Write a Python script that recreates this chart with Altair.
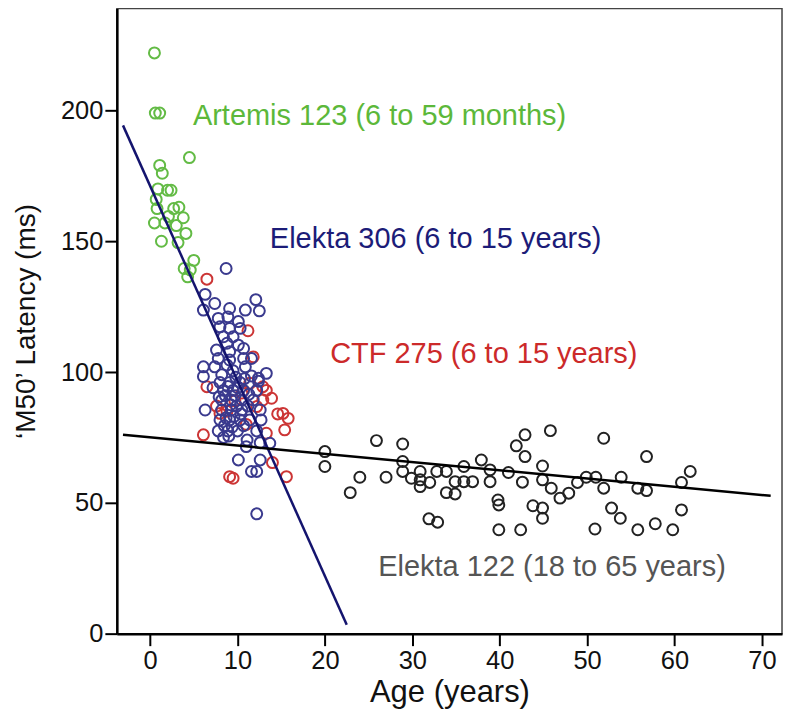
import altair as alt
import pandas as pd

# ---- data ----
artemis_x = [0.5, 0.6, 1.1, 4.5, 1.1, 1.4, 0.9, 2.0, 2.4, 0.7, 0.8, 2.7, 3.3, 3.8, 2.1, 0.5, 1.7, 3.0, 4.1, 1.3, 3.2, 5.0, 3.9, 4.3, 4.6]
artemis_y = [222, 199, 199, 182, 179, 176, 170, 169.5, 169.5, 166, 162.5, 162.5, 163, 159, 159.5, 157, 157, 156, 153, 150, 149.5, 142.7, 139.6, 136.4, 139]

ctf_x = [6.5, 11.2, 11.8, 6.5, 11.4, 12.9, 13.9, 15.2, 15.8, 15.4, 12.9, 13.3, 8.0, 6.1, 13.3, 14.0, 15.6, 9.1, 9.5, 9.7, 8.8, 7.6, 12.2, 10.5, 11.0, 14.6]
ctf_y = [135.5, 115.8, 105.8, 94.4, 95.7, 94.4, 90, 84.2, 82.3, 77.9, 89.3, 93, 84.2, 76, 76.6, 65.4, 60, 60, 59.4, 89, 85, 87, 86.8, 92, 80, 84]

elekta306_x = [8.7, 6.3, 7.4, 6.1, 9.1, 12.1, 12.5, 10.9, 7.8, 8.9, 10.1, 8.0, 9.1, 10.3, 8.4, 9.5, 8.8, 10.1, 7.6, 9.1,
               10.7, 7.8, 9.1, 10.7, 11.6, 7.4, 8.8, 10.9, 6.1, 6.1, 13.3, 12.4, 8.2, 8.0, 9.1, 10.3, 12.4, 8.4, 9.5, 10.7,
               12.2, 8.2, 9.3, 10.5, 11.8, 6.3, 8.2, 9.3, 10.5, 12.6, 8.0, 9.1, 10.3, 11.4, 12.7, 7.8, 8.9, 10.0, 12.2, 8.4,
               11.1, 12.6, 13.7, 11.0, 10.1, 12.6, 11.6, 12.2, 12.2, 9.8, 8.6, 9.9, 9.6, 11.2, 10.8, 7.2, 11.6, 9.4, 8.5, 10.7,
               8.9, 9.7, 10.4, 9.2, 8.7, 10.0, 9.5, 11.3, 7.9, 9.0]
elekta306_y = [139.6, 129.7, 126.2, 123.7, 124.3, 127.7, 123.4, 123.7, 120.5, 121.1, 119.3, 117.3, 116.7, 116.7, 113.5, 113.5, 111, 110.3, 108.4, 107.8,
               109, 105.2, 104.6, 105.2, 105.2, 102, 102.7, 102, 102, 98.3, 99.5, 97.6, 99, 96, 96, 96, 96.5, 93, 93, 93,
               93, 89.3, 89.3, 89.3, 89.3, 85.5, 85.5, 85.5, 85.5, 85.5, 81.7, 81.7, 81.7, 81.7, 81.7, 77.5, 77.5, 77.5, 77.5, 75,
               74, 73, 72.8, 71.5, 66.4, 66.4, 62, 62, 45.8, 98, 91, 87, 83, 87, 97.5, 94, 98.5, 79, 79.5, 79.5,
               94.5, 91, 84, 87.5, 82.5, 94, 100.5, 91.5, 90.5, 75.5]

elekta122_x = [20, 20, 25.9, 28.9, 24, 22.9, 27, 28.9, 28.9, 29.9, 30.9, 30.9, 30.9, 32, 32.8, 33.9, 34.9, 33.9, 34.9, 35.9,
               35.9, 36.9, 37.9, 38.9, 38.9, 31.9, 32.9, 39.8, 39.9, 39.9, 41, 41.9, 42.9, 42.9, 45.8, 42.6, 44.9, 44.9, 45.9, 46.9,
               47.9, 48.9, 49.9, 51, 51.9, 51.9, 53.9, 55.8, 56.8, 56.8, 60.8, 61.8, 60.8, 43.8, 44.9, 44.9, 42.4, 50.9, 52.8, 53.8,
               55.8, 57.8, 59.8]
elekta122_y = [69.6, 63.9, 73.8, 72.5, 59.8, 53.9, 59.8, 65.8, 62, 59.4, 62, 58.8, 56.2, 57.8, 62, 62, 58.1, 53.9, 53.4, 63.9,
               58.1, 58.1, 66.4, 62.6, 58.1, 43.9, 42.6, 51.1, 49.2, 39.7, 61.6, 71.8, 76, 67.7, 77.6, 57.9, 64.1, 58.8, 55.6, 51.8,
               53.7, 57.8, 59.8, 59.8, 74.7, 55.6, 59.8, 55.6, 67.7, 54.7, 57.8, 62, 47.3, 48.9, 48, 44.1, 39.7, 40, 48, 44.1,
               39.7, 42, 39.7]

# regression line end points
fit_names = ["Elekta 306", "Elekta 306", "Elekta 122", "Elekta 122"]
fit_x = [-3.1, 22.5, -3.1, 71.0]
fit_y = [194.3, 3.4, 76.0, 52.7]
fit_colors = ["#14146e", "#14146e", "#000000", "#000000"]

label_texts = ["Artemis 123 (6 to 59 months)", "Elekta 306 (6 to 15 years)", "CTF 275 (6 to 15 years)", "Elekta 122 (18 to 65 years)"]
label_x = [4.9, 13.7, 20.6, 26.1]
label_y = [197.7, 150.8, 106.9, 25.6]
label_colors = ["#5cb83a", "#1c1c78", "#cc2a2a", "#555555"]

groups = ["Artemis", "CTF", "Elekta306", "Elekta122"]
group_colors = ["#63bb45", "#cc3535", "#3a3a8e", "#222222"]

# ---- tables ----
rows = []
for g, xs, ys in [("Artemis", artemis_x, artemis_y), ("Elekta122", elekta122_x, elekta122_y),
                  ("CTF", ctf_x, ctf_y), ("Elekta306", elekta306_x, elekta306_y)]:
    for xv, yv in zip(xs, ys):
        rows.append({"age": xv, "lat": yv, "group": g})
pts = pd.DataFrame(rows)
fits = pd.DataFrame({"age": fit_x, "lat": fit_y, "fit": fit_names, "color": fit_colors})
labels = pd.DataFrame({"age": label_x, "lat": label_y, "text": label_texts, "color": label_colors})

xscale = alt.Scale(domain=[-3.8, 72.3], nice=False, zero=False)
yscale = alt.Scale(domain=[0, 239], nice=False)

xaxis = alt.Axis(values=[0, 10, 20, 30, 40, 50, 60, 70], title="Age (years)", titleFontSize=31,
                 titlePadding=3, labelPadding=3)
yaxis = alt.Axis(values=[0, 50, 100, 150, 200], title="\u2018M50\u2019 Latency (ms)", titleFontSize=28,
                 titlePadding=20, labelPadding=2)

points = alt.Chart(pts).mark_point(shape="circle", filled=False, size=120, strokeWidth=2, opacity=1).encode(
    x=alt.X("age:Q", scale=xscale, axis=xaxis),
    y=alt.Y("lat:Q", scale=yscale, axis=yaxis),
    color=alt.Color("group:N", scale=alt.Scale(domain=groups, range=group_colors), legend=None),
)

lines = alt.Chart(fits).mark_line(strokeWidth=2.5).encode(
    x="age:Q", y="lat:Q", detail="fit:N", color=alt.Color("color:N", scale=None)
)

texts = alt.Chart(labels).mark_text(align="left", baseline="middle", fontSize=29, font="Liberation Sans").encode(
    x="age:Q", y="lat:Q", text="text:N", color=alt.Color("color:N", scale=None)
)

chart = alt.layer(points, lines, texts).properties(
    width=666, height=626,
    autosize=alt.AutoSizeParams(type="none"),
    padding={"left": 109, "top": 0, "right": 10, "bottom": 76},
).configure_view(stroke="#444444", strokeWidth=1.5).configure_axis(
    grid=False, domainColor="#000000", domainWidth=2.5, tickColor="#000000", tickWidth=2, tickSize=12,
    labelFont="Liberation Sans", labelFontSize=25.5, labelColor="#111111",
    titleFont="Liberation Sans", titleFontWeight="normal", titleColor="#111111",
)

chart.save("out.html", embed_options={"renderer": "svg", "actions": False})
